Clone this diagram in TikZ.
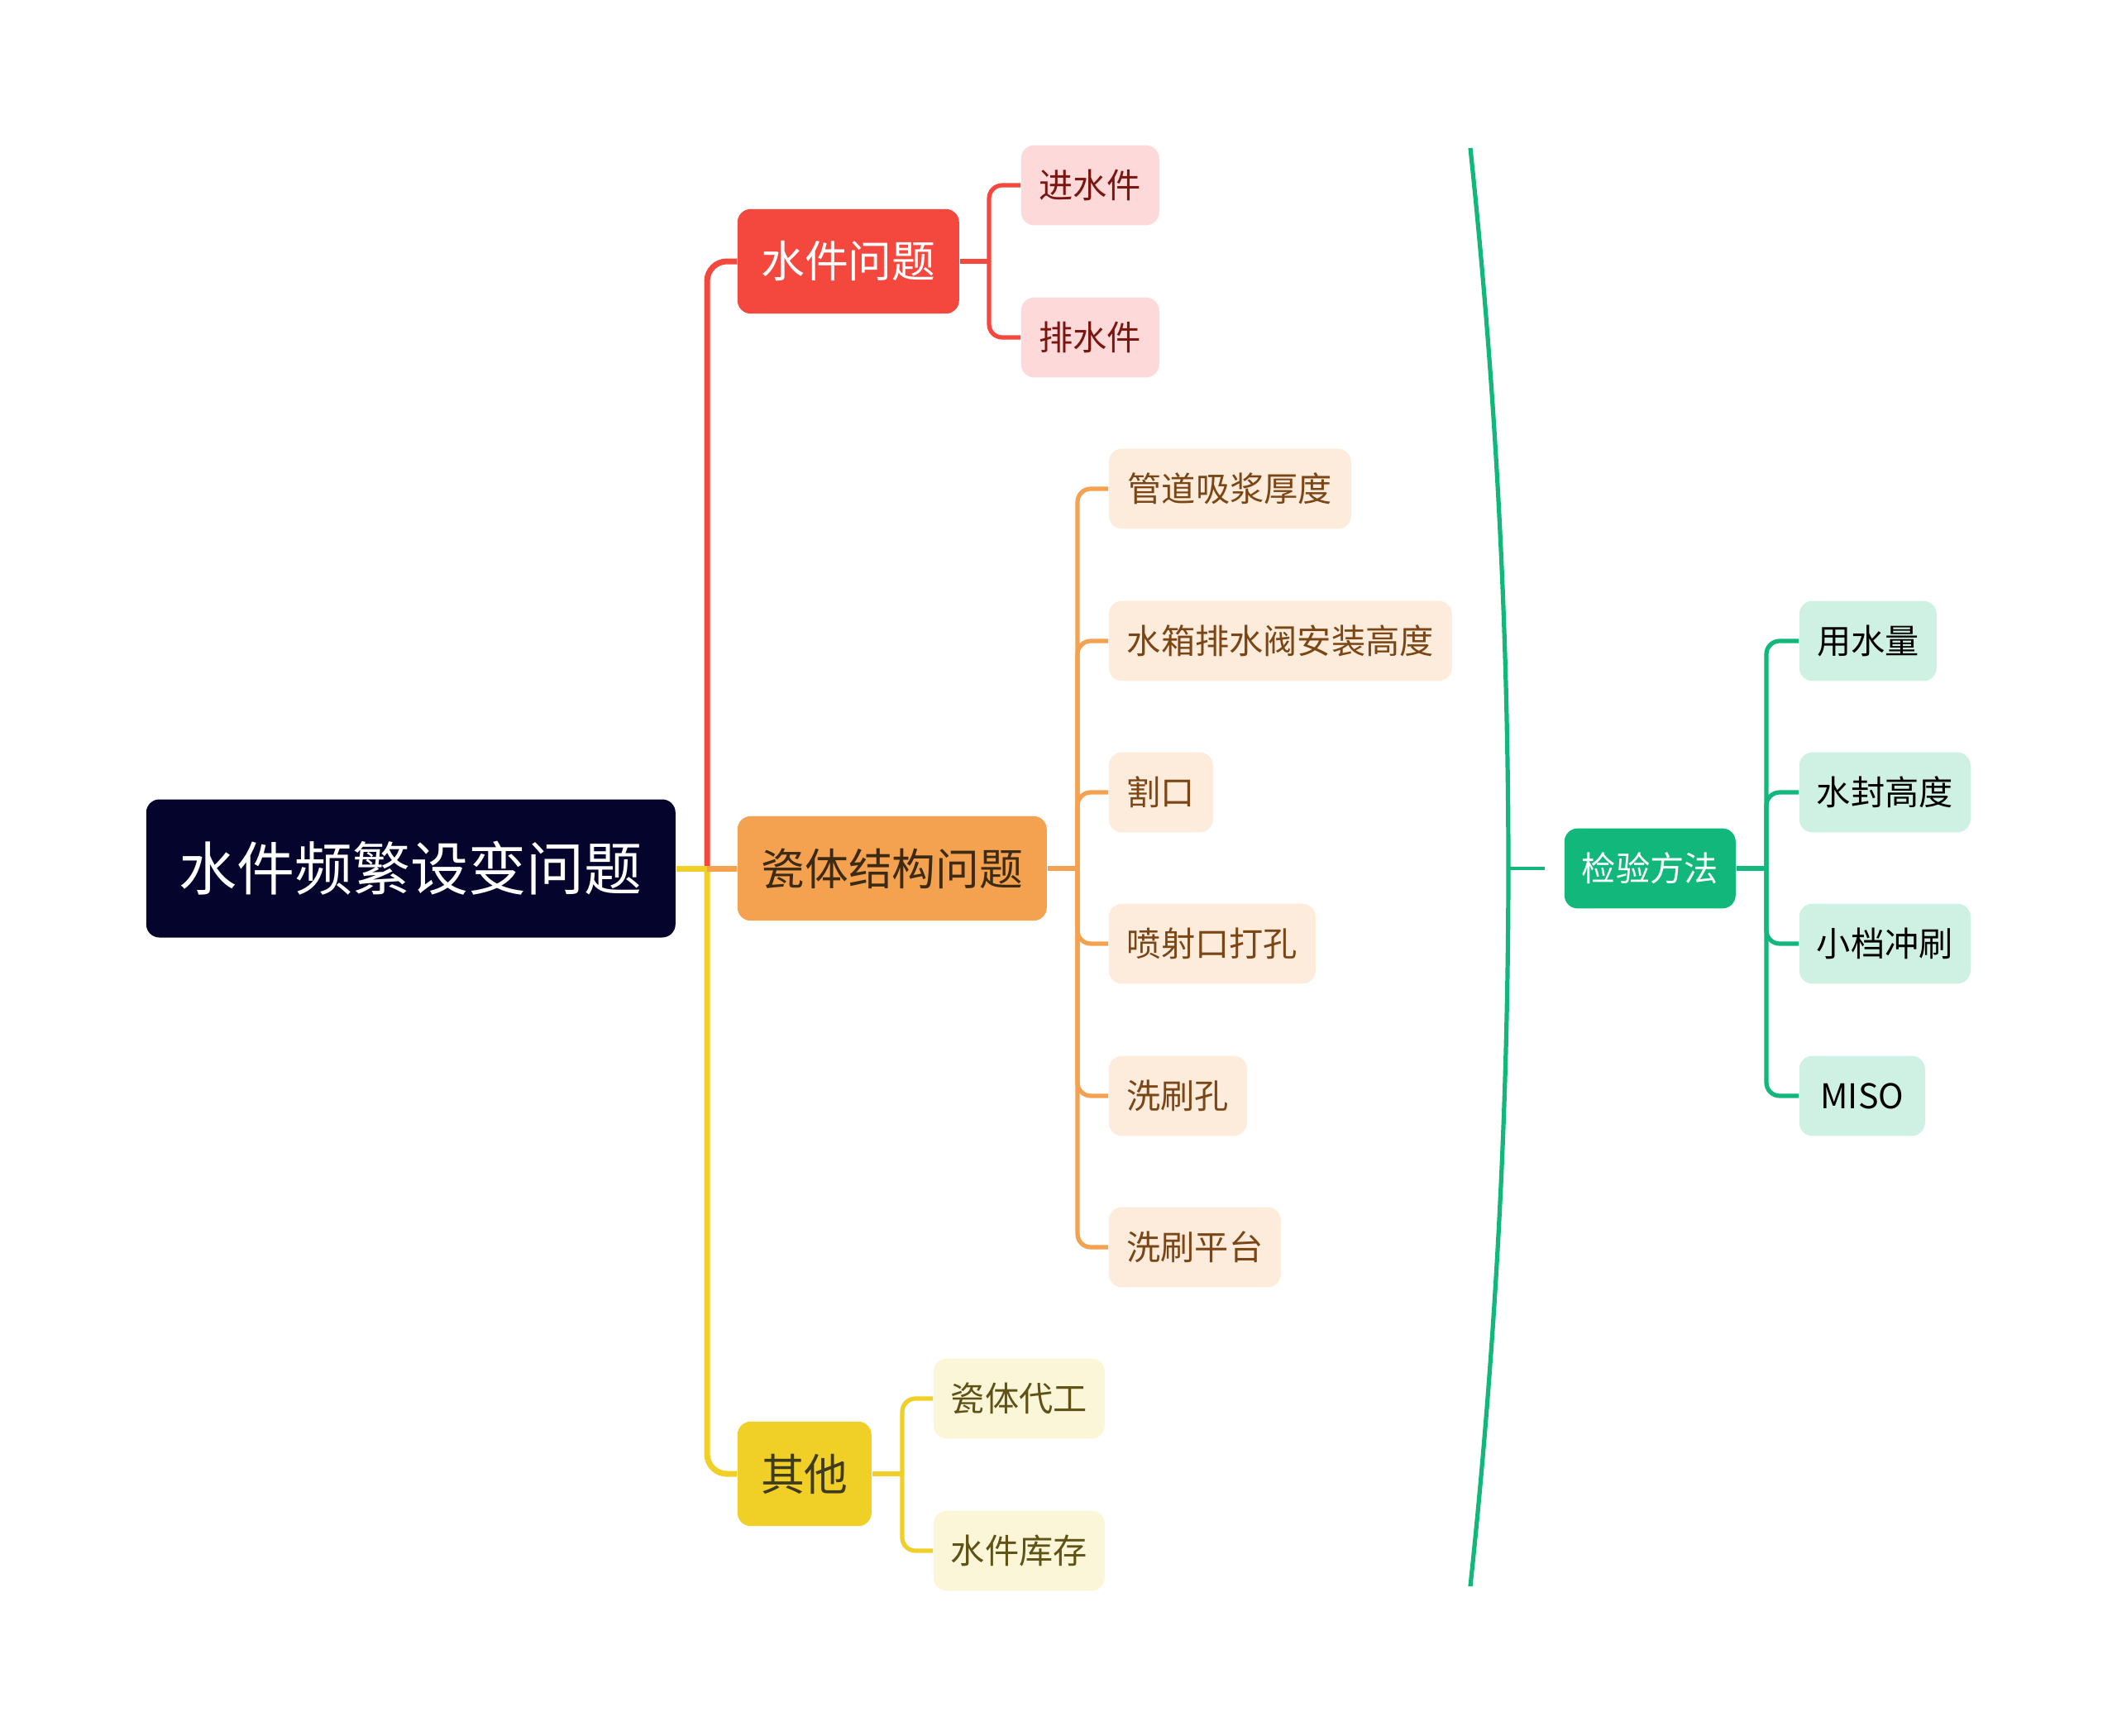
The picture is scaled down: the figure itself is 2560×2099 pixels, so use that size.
\documentclass[tikz,border=0pt]{standalone}
\usepackage{fontspec}
\setmainfont{Noto Sans CJK SC}
\definecolor{rootc}{HTML}{04042C}
\definecolor{redc}{HTML}{F4473E}
\definecolor{orgc}{HTML}{F4A24F}
\definecolor{yelc}{HTML}{F0D026}
\definecolor{grnc}{HTML}{12B77B}
\definecolor{pinkf}{HTML}{FDDAD9}
\definecolor{pinkt}{HTML}{7B1510}
\definecolor{peachf}{HTML}{FDEBDC}
\definecolor{peacht}{HTML}{7B4616}
\definecolor{lyelf}{HTML}{FCF6D8}
\definecolor{lyelt}{HTML}{5E5216}
\definecolor{lgrnf}{HTML}{CFF1E3}
\definecolor{orgt}{HTML}{3D2A12}
\definecolor{yelt}{HTML}{3D3A1E}
\tikzset{
  box/.style={anchor=west, rounded corners=4pt, inner sep=0pt, align=center},
  rootbox/.style={box, fill=rootc, text=white, minimum height=41.75pt, font=\fontsize{17.5pt}{20pt}\selectfont},
  mainbox/.style={box, minimum height=31.6pt, font=\fontsize{13.2pt}{16pt}\selectfont},
  leafbox/.style={box, minimum height=24.2pt, font=\fontsize{10.3pt}{12pt}\selectfont},
  trunk/.style={line width=1.75pt, rounded corners=6pt},
  twig/.style={line width=1.3pt, rounded corners=4pt},
}
\begin{document}
\begin{tikzpicture}[x=0.25pt, y=-0.25pt]
\useasboundingbox[fill=white] (0,0) rectangle (2560,2099);

% nodes
\node[rootbox, minimum width=160pt] (root) at (176,1050) {水件频繁设变问题};
\node[mainbox, fill=redc, text=white, minimum width=67pt] (n1) at (891,316) {水件问题};
\node[mainbox, fill=orgc, text=orgt, minimum width=93.5pt] (n2) at (891,1050) {瓷体结构问题};
\node[mainbox, fill=yelc, text=yelt, minimum width=40.5pt] (n3) at (891,1782) {其他};

\node[leafbox, fill=pinkf, text=pinkt, minimum width=41.75pt] (c11) at (1234,224) {进水件};
\node[leafbox, fill=pinkf, text=pinkt, minimum width=41.75pt] (c12) at (1234,408) {排水件};

\node[leafbox, fill=peachf, text=peacht, minimum width=73.25pt] (c21) at (1340,591) {管道吸浆厚度};
\node[leafbox, fill=peachf, text=peacht, minimum width=103.75pt] (c22) at (1340,775) {水箱排水阀安装高度};
\node[leafbox, fill=peachf, text=peacht, minimum width=31.5pt] (c23) at (1340,958) {割口};
\node[leafbox, fill=peachf, text=peacht, minimum width=62.5pt] (c24) at (1340,1141) {喷射口打孔};
\node[leafbox, fill=peachf, text=peacht, minimum width=41.75pt] (c25) at (1340,1325) {洗刷孔};
\node[leafbox, fill=peachf, text=peacht, minimum width=52pt] (c26) at (1340,1508) {洗刷平台};

\node[leafbox, fill=lyelf, text=lyelt, minimum width=51.75pt] (c31) at (1128,1691) {瓷体代工};
\node[leafbox, fill=lyelf, text=lyelt, minimum width=51.75pt] (c32) at (1128,1875) {水件库存};

\node[leafbox, fill=grnc, text=white, minimum width=51.75pt] (g) at (1891,1050) {检验方法};
\node[leafbox, fill=lgrnf, text=black, minimum width=41.5pt] (g1) at (2175,775) {用水量};
\node[leafbox, fill=lgrnf, text=black, minimum width=51.75pt] (g2) at (2175,958) {水封高度};
\node[leafbox, fill=lgrnf, text=black, minimum width=51.75pt] (g3) at (2175,1141) {小档冲刷};
\node[leafbox, fill=lgrnf, text=black, minimum width=38pt] (g4) at (2175,1325) {MISO};

% junction coordinates
\coordinate (t) at (855,1050);
\coordinate (b1) at (1196,316);
\coordinate (b2) at (1303,1050);
\coordinate (b3) at (1091,1782);
\coordinate (bg) at (2136,1050);
\coordinate (arcT) at (1778,179);
\coordinate (arcM) at (1824,1050);
\coordinate (arcB) at (1778,1918);
\coordinate (stub) at (1868,1050);

% main branches
\draw[trunk, redc] (t) |- (n1.west);
\draw[trunk, yelc] (t) |- (n3.west);
\draw[trunk, orgc] (t) -- (n2.west);
\draw[trunk, yelc] (root.east) -- (t);

% red children
\draw[twig, redc] (n1.east) -- (b1);
\draw[twig, redc] (b1) |- (c11.west);
\draw[twig, redc] (b1) |- (c12.west);

% orange children
\draw[twig, orgc] (n2.east) -- (b2);
\foreach \c in {c21,c22,c23,c24,c25,c26}
  \draw[twig, orgc] (b2) |- (\c.west);

% yellow children
\draw[twig, yelc] (n3.east) -- (b3);
\draw[twig, yelc] (b3) |- (c31.west);
\draw[twig, yelc] (b3) |- (c32.west);

% green
\draw[line width=1.3pt, grnc] (arcT) .. controls (1839.3,759) and (1839.3,1339) .. (arcB);
\draw[line width=0.9pt, grnc] (arcM) -- (stub);
\draw[twig, grnc] (g.east) -- (bg);
\foreach \c in {g1,g2,g3,g4}
  \draw[twig, grnc] (bg) |- (\c.west);
\end{tikzpicture}
\end{document}
